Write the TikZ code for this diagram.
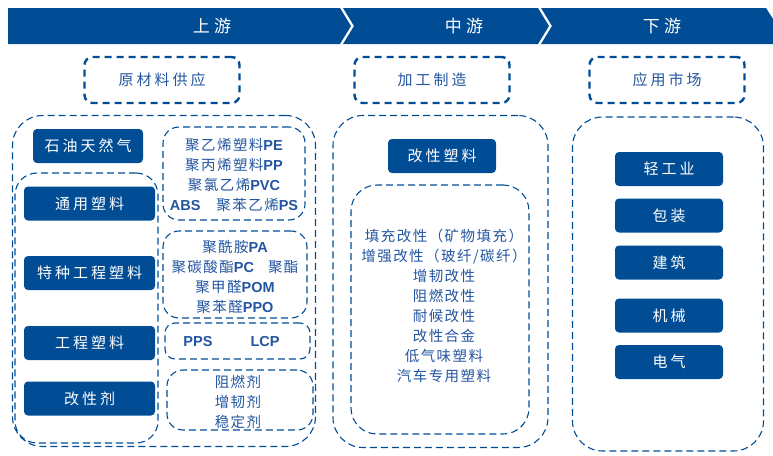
\documentclass[tikz,border=0pt]{standalone}
\usepackage{fontspec}
\newfontfamily\cjk{Noto Sans CJK SC}
\newfontfamily\cjklist[LetterSpace=10]{Noto Sans CJK SC}
\newfontfamily\cjksp[LetterSpace=20]{Noto Sans CJK SC}
\newfontfamily\cjkban[LetterSpace=25]{Noto Sans CJK SC}
\newfontfamily\lat{Liberation Sans}
\definecolor{db}{RGB}{0,77,150}
\definecolor{tb}{RGB}{35,85,160}
\newcommand{\la}[1]{{\lat\bfseries #1}}
\begin{document}
\begin{tikzpicture}[x=1pt,y=-1pt,
  solidbox/.style={fill=db, rounded corners=4pt, text=white, inner sep=0pt,
    minimum width=#1, minimum height=34pt, font=\cjksp\fontsize{15}{16}\selectfont},
  solidbox/.default=131pt,
  titlebox/.style={draw=db, line width=2.4pt, dash pattern=on 7pt off 5pt, rounded corners=8pt,
    minimum width=155pt, minimum height=46pt, text=tb, font=\cjksp\fontsize{15}{16}\selectfont},
  bigbox/.style={draw=db, line width=1.1pt, dash pattern=on 7pt off 4pt, rounded corners=#1, inner sep=0pt},
  bigbox/.default=30pt,
  listtxt/.style={text=tb, align=center, inner sep=0pt, font=\cjklist\fontsize{14.5}{20}\selectfont},
  bantxt/.style={text=white, font=\cjkban\fontsize{17}{20}\selectfont}
]
\useasboundingbox (0,0) rectangle (773,455);
% banner
\fill[db] (8,8) -- (340,8) -- (351,26) -- (340,44) -- (8,44) -- cycle;
\fill[db] (343,8) -- (538,8) -- (549,26) -- (538,44) -- (343,44) -- (354,26) -- cycle;
\fill[db] (541,8) -- (766,8) -- (773,19) -- (773,44) -- (541,44) -- (552,26) -- cycle;
\node[bantxt] (up) at (212,26) {上游};
\node[bantxt] (mid) at (464,26) {中游};
\node[bantxt] (down) at (662,26) {下游};
% title boxes
\node[titlebox] (t1) at (162,80) {原材料供应};
\node[titlebox] (t2) at (432,80) {加工制造};
\node[titlebox] (t3) at (667,80) {应用市场};
% big containers
\node[bigbox, minimum width=303pt, minimum height=331pt] (L) at (164,281) {};
\node[bigbox, minimum width=215pt, minimum height=332pt] (M) at (440.5,281.5) {};
\node[bigbox, minimum width=191pt, minimum height=334pt] (R) at (668,284) {};
% left inner container
\node[bigbox=22pt, minimum width=143pt, minimum height=270pt] (Li) at (86.5,308) {};
\node[solidbox=110pt] (oil) at (88,146) {石油天然气};
\node[solidbox] (gen) at (89.5,203.5) {通用塑料};
\node[solidbox] (spe) at (89.5,273) {特种工程塑料};
\node[solidbox] (eng) at (89.5,343) {工程塑料};
\node[solidbox] (mod) at (89.5,398.5) {改性剂};
% right dashed groups
\node[bigbox=16pt, minimum width=142pt, minimum height=93pt] (g1) at (234,173.5) {};
\node[bigbox=16pt, minimum width=144pt, minimum height=87pt] (g2) at (235,274.5) {};
\node[bigbox=10pt, minimum width=145pt, minimum height=36pt] (g3) at (237.5,341) {};
\node[bigbox=16pt, minimum width=146pt, minimum height=60pt] (g4) at (240,400) {};
\node[listtxt] (l1) at (234,175) {聚乙烯塑料\la{PE}\\聚丙烯塑料\la{PP}\\聚氯乙烯\la{PVC}\\\la{ABS}\hspace{16pt}聚苯乙烯\la{PS}};
\node[listtxt] (l2) at (235,277) {聚酰胺\la{PA}\\聚碳酸酯\la{PC}\hspace{14pt}聚酯\\聚甲醛\la{POM}\\聚苯醛\la{PPO}};
\node[listtxt] (pps) at (198,342) {\la{PPS}};
\node[listtxt] (lcp) at (265,342) {\la{LCP}};
\node[listtxt] (l4) at (238,402) {阻燃剂\\增韧剂\\稳定剂};
% middle
\node[solidbox=108pt] (mp) at (442,156) {改性塑料};
\node[bigbox=26pt, minimum width=178pt, minimum height=249pt] (Mi) at (440,309.5) {};
\node[listtxt] (l5) at (444,306) {填充改性（矿物填充）\\增强改性（玻纤/碳纤）\\增韧改性\\阻燃改性\\耐候改性\\改性合金\\低气味塑料\\汽车专用塑料};
% right
\node[solidbox=108pt] (r1) at (669,169) {轻工业};
\node[solidbox=108pt] (r2) at (669,215.5) {包装};
\node[solidbox=108pt] (r3) at (669,262.5) {建筑};
\node[solidbox=108pt] (r4) at (669,315.5) {机械};
\node[solidbox=108pt] (r5) at (669,362) {电气};
\end{tikzpicture}
\end{document}
